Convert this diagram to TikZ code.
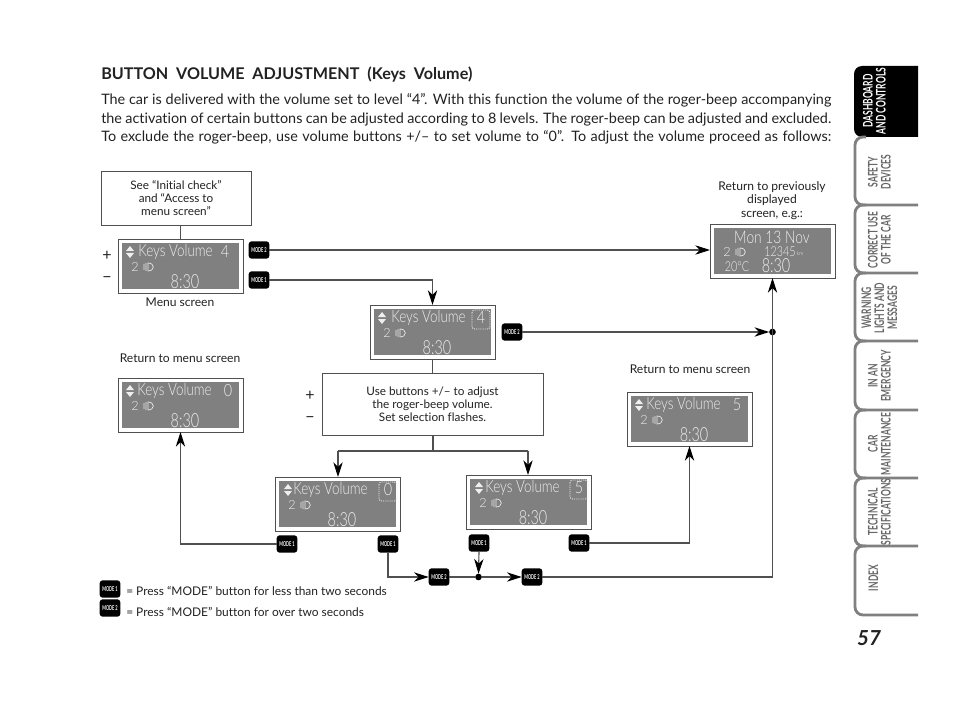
\documentclass[tikz,border=0pt]{standalone}
\usepackage{fontspec}
\usepackage{graphicx}
\setmainfont{Lato}[Ligatures={TeX,NoCommon}]
\newfontfamily\lcdf{Lato}[UprightFont=* Light]
\usetikzlibrary{arrows.meta,calc}
\definecolor{lcdgray}{HTML}{808080}
\definecolor{lcdtxt}{HTML}{EEEEEE}
\definecolor{linecol}{HTML}{505050}
\definecolor{tabgray}{HTML}{808080}
\definecolor{tabtxt}{HTML}{666666}
\definecolor{inkcol}{HTML}{222222}
\tikzset{
  conn/.style={draw=linecol,line width=.85pt},
  arr/.style={conn,-{Stealth[length=11pt,width=7pt,inset=3.4pt,color=black]}},
  lcdbox/.style={draw=linecol,fill=white,line width=.7pt,minimum width=93.75pt,minimum height=40.5pt,inner sep=0pt,outer sep=0pt,anchor=north west},
  lcdin/.style={fill=lcdgray,minimum width=87.5pt,minimum height=34.5pt,inner sep=0pt,outer sep=0pt},
  lcdtext/.style={text=lcdtxt,inner sep=0pt,font=\lcdf\fontsize{12}{12}\selectfont},
  lcdsmall/.style={text=lcdtxt,inner sep=0pt,font=\lcdf\fontsize{9.5}{10}\selectfont},
  selbox/.style={draw=lcdtxt,dash pattern=on .8pt off .8pt,line width=.7pt,rounded corners=2pt},
  infobox/.style={draw=linecol,line width=.7pt,inner sep=0pt,outer sep=0pt,align=center,text=inkcol,font=\fontsize{8.8}{9.8}\selectfont},
  lab/.style={text=inkcol,align=center,inner sep=0pt,font=\fontsize{9.05}{9.9}\selectfont},
  legend/.style={text=inkcol,anchor=west,inner sep=0pt,font=\fontsize{8.95}{9.9}\selectfont},
  pm/.style={text=inkcol,inner sep=0pt,font=\fontsize{12}{12}\selectfont},
  modebtn/.style={fill=black,rounded corners=2.2pt,minimum width=15.5pt,minimum height=13pt,inner sep=0pt,outer sep=0pt,text=white,font=\bfseries\fontsize{3.6}{4}\selectfont},
  junction/.style={circle,fill=black,minimum size=5pt,inner sep=0pt,outer sep=0pt},
  tabline/.style={draw=tabgray,line width=2.1pt,rounded corners=6pt},
  tablab/.style={rotate=90,inner sep=0pt,font=\bfseries\fontsize{8.6}{8.6}\selectfont},
  bodytxt/.style={anchor=base west,inner sep=0pt,text=inkcol,font=\fontsize{10.8}{12}\selectfont},
}
\newcommand{\tabtext}[1]{\scalebox{.74}[1.15]{\renewcommand{\arraystretch}{.86}\begin{tabular}{@{}c@{}}#1\end{tabular}}}
\newcommand{\modetxt}[1]{\scalebox{.82}[1.4]{#1}}
\newcommand{\nar}[2]{\scalebox{#1}[1.08]{#2}}
\newcommand{\updown}[2]{\fill[lcdtxt] (#1-4,#2-1) -- (#1+4,#2-1) -- (#1,#2-6) -- cycle (#1-4,#2+1) -- (#1+4,#2+1) -- (#1,#2+6) -- cycle;}
\newcommand{\lampicon}[2]{\draw[lcdtxt,line width=.5pt] (#1-1,#2-4) .. controls (#1+6,#2-4) and (#1+6,#2+4) .. (#1-1,#2+4) -- cycle (#1-3,#2-4) -- (#1-3,#2+4) (#1-5,#2-3) -- (#1-5,#2+3);}
% name, left, top, arrow x, title x, digit x, digit
\newcommand{\lcdscreen}[7]{%
  \node[lcdbox] (#1) at (#2,#3) {};
  \node[lcdin] (#1in) at (#1.center) {};
  \begin{scope}[shift={(#2,#3)}]
    \updown{#4}{13}
    \node[lcdtext,anchor=west] (#1title) at (#5,13) {\scalebox{.84}[1.05]{Keys Volume}};
    \node[lcdtext] (#1digit) at (#6,13) {\scalebox{.9}[1.05]{#7}};
    \node[lcdsmall] (#1two) at (17,28) {2};
    \lampicon{31}{28}
    \node[lcdtext] (#1clock) at (67,42.5) {\fontsize{13.5}{13.5}\selectfont\nar{.8}{8:30}};
  \end{scope}}
\begin{document}
\begin{tikzpicture}[x=.75pt,y=-.75pt]
\useasboundingbox (0,0) rectangle (960,702);
\fill[white] (0,0) rectangle (960,702);
% heading and paragraph
\node[bodytxt,font=\bfseries\fontsize{12.1}{12}\selectfont] (head) at (101,80) {\makebox[278.25pt][s]{BUTTON VOLUME ADJUSTMENT (Keys Volume)}};
\node[bodytxt] (p1) at (101,105) {\makebox[547.5pt][s]{The car is delivered with the volume set to level “4”. With this function the volume of the roger-beep accompanying}};
\node[bodytxt] (p2) at (101,124) {\makebox[547.5pt][s]{the activation of certain buttons can be adjusted according to 8 levels. The roger-beep can be adjusted and excluded.}};
\node[bodytxt] (p3) at (101,142) {\makebox[547.5pt][s]{To exclude the roger-beep, use volume buttons +/– to set volume to “0”. To adjust the volume proceed as follows:}};
% boxes
\node[infobox,minimum width=112.5pt,minimum height=40.5pt] (see) at (176,198) {See “Initial check”\\and “Access to\\menu screen”};
\lcdscreen{lcdA}{118}{239}{12}{20}{107}{4}
\lcdscreen{lcdB}{370}{305}{12}{21}{111}{4}
\draw[selbox] (472,310) rectangle (490,329);
\lcdscreen{lcdC}{118}{378}{12}{19}{110}{0}
\lcdscreen{lcdD}{627}{392}{12}{19}{110}{5}
\lcdscreen{lcdE}{275}{477}{13}{18}{113}{0}
\draw[selbox] (379,482) rectangle (397,501);
\lcdscreen{lcdF}{466}{475}{13}{19}{113}{5}
\draw[selbox] (570,480) rectangle (588,499);
% previously displayed screen
\node[lcdbox] (lcdT) at (710,224) {};
\node[lcdin] (lcdTin) at (lcdT.center) {};
\node[lcdtext] (tDate) at (772,237) {\nar{.86}{Mon 13 Nov}};
\node[lcdsmall] (tTwo) at (727,252) {2};
\lampicon{741}{252}
\node[lcdsmall] (tOdo) at (780,252) {\nar{.85}{12345}};
\node[lcdsmall,font=\lcdf\fontsize{4}{4}\selectfont] (tKm) at (800,254) {km};
\node[lcdsmall] (tTemp) at (737,267) {\nar{.85}{20°C}};
\node[lcdtext,font=\lcdf\fontsize{13.5}{13.5}\selectfont] (tClock) at (776,266) {\nar{.8}{8:30}};
% use box
\node[infobox,minimum width=165.75pt,minimum height=46.5pt] (use) at (432.5,404) {Use buttons +/– to adjust\\the roger-beep volume.\\Set selection flashes.};
% texts
\node[lab] (menu) at (180,302) {Menu screen};
\node[lab] (retL) at (180,358) {Return to menu screen};
\node[lab] (retR) at (690,369) {Return to menu screen};
\node[lab] (retT) at (772,200.5) {Return to previously\\displayed\\screen, e.g.:};
\node[pm] (plusA) at (107,256) {+};
\node[pm] (minusA) at (107,280) {−};
\node[pm] (plusB) at (310,396) {+};
\node[pm] (minusB) at (310,420) {−};
% mode buttons
\node[modebtn] (mA2) at (259,250) {\modetxt{MODE 2}};
\node[modebtn] (mA1) at (259,280) {\modetxt{MODE 1}};
\node[modebtn] (mB2) at (512,332) {\modetxt{MODE 2}};
\node[modebtn] (mE1) at (287,544) {\modetxt{MODE 1}};
\node[modebtn] (mG1) at (388,544) {\modetxt{MODE 1}};
\node[modebtn] (mF1) at (479,543) {\modetxt{MODE 1}};
\node[modebtn] (mH1) at (579,543) {\modetxt{MODE 1}};
\node[modebtn] (mJ2) at (439,577) {\modetxt{MODE 2}};
\node[modebtn] (mK2) at (532,577) {\modetxt{MODE 2}};
\node[modebtn] (mL1) at (110,589) {\modetxt{MODE 1}};
\node[modebtn] (mL2) at (110,608) {\modetxt{MODE 2}};
\node[legend] (legA) at (126,591) {= Press “MODE” button for less than two seconds};
\node[legend] (legB) at (126,612) {= Press “MODE” button for over two seconds};
% junctions
\node[junction] (jTop) at (772.5,332) {};
\node[junction] (jBot) at (478.5,577) {};
\coordinate (splitC) at (433,451);
\coordinate (splitL) at (338,451);
\coordinate (splitR) at (528,451);
\coordinate (corner) at (772.5,577);
% connectors
\draw[conn] (see.south -| lcdA.north) -- (lcdA.north);
\draw[arr] (mA2.east) -- (mA2.east -| lcdT.west);
\draw[arr] (mA1.east) -| (lcdB.north);
\draw[arr] (mB2.east) -- (jTop.west);
\draw[arr] (corner) -- (jTop.center) -- (lcdT.south -| jTop);
\draw[conn] (lcdB.south) -- (use.north -| lcdB.south);
\draw[conn] (use.south -| splitC) -- (splitC);
\draw[conn] (splitL) -- (splitR);
\draw[arr] (splitL) -- (lcdE.north -| splitL);
\draw[arr] (splitR) -- (lcdF.north -| splitR);
\draw[arr] (mE1.west) -| (lcdC.south);
\draw[arr] (mG1.south) |- (mJ2.west);
\draw[conn] (mJ2.east) -- (jBot.west);
\draw[arr] (jBot.east) -- (mK2.west);
\draw[arr] (mF1.south) -- (jBot.north);
\draw[conn] (mK2.east) -- (corner);
\draw[arr] (mH1.east) -| (lcdD.south);
% side tabs
\fill[black,rounded corners=6pt] (918,66) -- (854,66) -- (854,137) -- (918,137);
\fill[black] (900,66) rectangle (918,137);
\foreach \t/\b in {137/205,205/273,273/341,341/410,410/478,478/546,546/615}{
  \draw[tabline] (918,\b) -- (855,\b) -- (855,\t) -- (866,\t);
}
\node[tablab,text=white] (tab1) at (876,101) {\tabtext{DASHBOARD\\AND CONTROLS}};
\node[tablab,text=tabtxt] (tab2) at (881,172) {\tabtext{SAFETY\\DEVICES}};
\node[tablab,text=tabtxt] (tab3) at (881,240) {\tabtext{CORRECT USE\\OF THE CAR}};
\node[tablab,text=tabtxt] (tab4) at (881,308) {\tabtext{WARNING\\LIGHTS AND\\MESSAGES}};
\node[tablab,text=tabtxt] (tab5) at (881,376) {\tabtext{IN AN\\EMERGENCY}};
\node[tablab,text=tabtxt] (tab6) at (881,444) {\tabtext{CAR\\MAINTENANCE}};
\node[tablab,text=tabtxt] (tab7) at (881,512) {\tabtext{TECHNICAL\\SPECIFICATIONS}};
\node[tablab,text=tabtxt] (tab8) at (875,578) {\tabtext{INDEX}};
\node[inner sep=0pt,text=inkcol,font=\bfseries\itshape\fontsize{15.5}{15.5}\selectfont] (page) at (869,638) {57};
\end{tikzpicture}
\end{document}
